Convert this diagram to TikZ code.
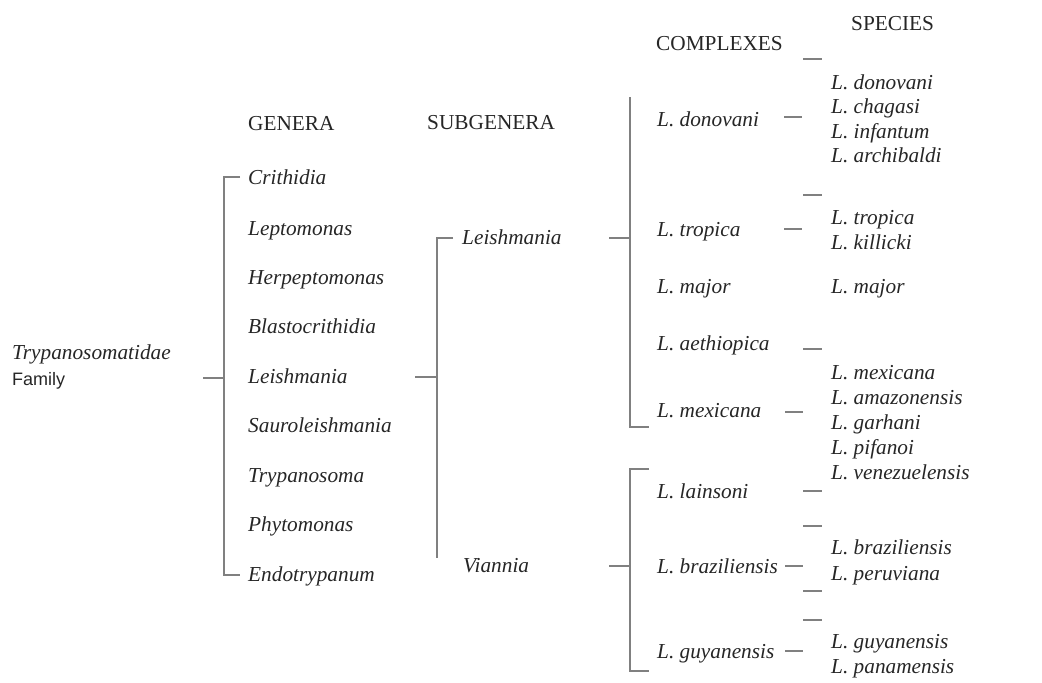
\documentclass[tikz,border=0pt]{standalone}
\usepackage{fontspec}
\setmainfont{Liberation Serif}
\setsansfont{Liberation Sans}
\begin{document}
\begin{tikzpicture}[x=1pt,y=-1pt,
  lbl/.style={anchor=west,inner sep=0pt,yshift=-4.5pt,text height=0.7em,text depth=0.2em,font=\fontsize{21.3}{24}\selectfont\itshape,text=black!85},
  hdr/.style={anchor=west,inner sep=0pt,yshift=-4.5pt,text height=0.7em,text depth=0.2em,font=\fontsize{21.3}{24}\selectfont,text=black!85},
  br/.style={draw=black!50,line width=1.2pt}]
\useasboundingbox (0,0) rectangle (1042,683);
% headers
\node[hdr] (hg) at (248,123) {GENERA};
\node[hdr] (hs) at (427,122) {SUBGENERA};
\node[hdr] (hc) at (656,43) {COMPLEXES};
\node[hdr] (hp) at (851,23) {SPECIES};
% family
\node[lbl] (fam1) at (12,352) {Trypanosomatidae};
\node[hdr,font=\fontsize{18}{20}\sffamily] (fam2) at (12,378) {Family};
% genera
\node[lbl] (g1) at (248,177) {Crithidia};
\node[lbl] (g2) at (248,228) {Leptomonas};
\node[lbl] (g3) at (248,277) {Herpeptomonas};
\node[lbl] (g4) at (248,326) {Blastocrithidia};
\node[lbl] (g5) at (248,376) {Leishmania};
\node[lbl] (g6) at (248,425) {Sauroleishmania};
\node[lbl] (g7) at (248,475) {Trypanosoma};
\node[lbl] (g8) at (248,524) {Phytomonas};
\node[lbl] (g9) at (248,574) {Endotrypanum};
\coordinate (fa) at (203,378);
\coordinate (fb) at (224,378);
\draw[br] (fa) -- (fb);
\draw[br] (240,177) -- (224,177) -- (224,575) -- (240,575);
% subgenera
\node[lbl] (s1) at (462,237) {Leishmania};
\node[lbl] (s2) at (463,565) {Viannia};
\coordinate (ga) at (415,377);
\coordinate (gb) at (437,377);
\draw[br] (ga) -- (gb);
\draw[br] (453,238) -- (437,238) -- (437,558);
% complexes
\node[lbl] (c1) at (657,119) {L. donovani};
\node[lbl] (c2) at (657,229) {L. tropica};
\node[lbl] (c3) at (657,286) {L. major};
\node[lbl] (c4) at (657,343) {L. aethiopica};
\node[lbl] (c5) at (657,410) {L. mexicana};
\node[lbl] (c6) at (657,491) {L. lainsoni};
\node[lbl] (c7) at (657,566) {L. braziliensis};
\node[lbl] (c8) at (657,651) {L. guyanensis};
\coordinate (la) at (609,238);
\coordinate (lb) at (630,238);
\draw[br] (la) -- (lb);
\draw[br] (630,97) -- (630,427) -- (649,427);
\coordinate (va) at (609,566);
\coordinate (vb) at (630,566);
\draw[br] (va) -- (vb);
\draw[br] (649,469) -- (630,469) -- (630,671) -- (649,671);
% species dashes
\foreach \y in {117,229}{\draw[br] (784,\y) -- (802,\y);}
\foreach \y in {412,566,651}{\draw[br] (785,\y) -- (803,\y);}
\foreach \y in {59,195,349,491,526,591,620}{\draw[br] (803,\y) -- (822,\y);}
% species
\node[lbl] (p1) at (831,82) {L. donovani};
\node[lbl] (p2) at (831,106) {L. chagasi};
\node[lbl] (p3) at (831,131) {L. infantum};
\node[lbl] (p4) at (831,155) {L. archibaldi};
\node[lbl] (p5) at (831,217) {L. tropica};
\node[lbl] (p6) at (831,242) {L. killicki};
\node[lbl] (p7) at (831,286) {L. major};
\node[lbl] (p8) at (831,372) {L. mexicana};
\node[lbl] (p9) at (831,397) {L. amazonensis};
\node[lbl] (p10) at (831,422) {L. garhani};
\node[lbl] (p11) at (831,447) {L. pifanoi};
\node[lbl] (p12) at (831,472) {L. venezuelensis};
\node[lbl] (p13) at (831,547) {L. braziliensis};
\node[lbl] (p14) at (831,573) {L. peruviana};
\node[lbl] (p15) at (831,641) {L. guyanensis};
\node[lbl] (p16) at (831,666) {L. panamensis};
\end{tikzpicture}
\end{document}
